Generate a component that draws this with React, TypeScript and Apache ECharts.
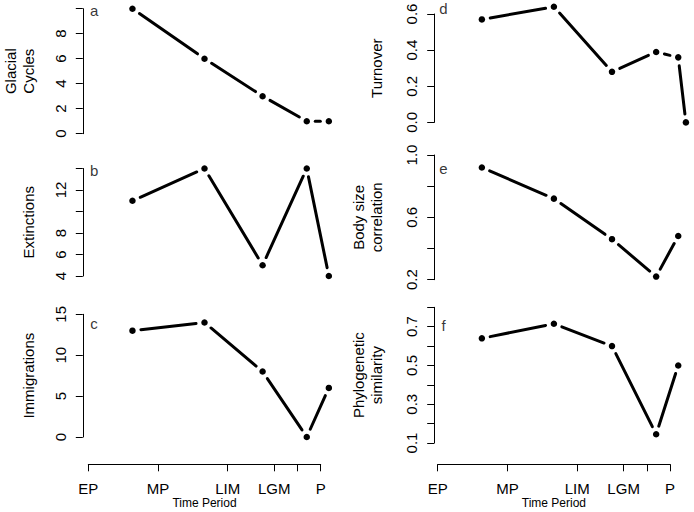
import React, { useEffect, useRef } from "react";
import * as echarts from "echarts";

// ---- data ----
const periodTicks = [0, 3, 6, 8, 9, 10];
const periodLabelValues = [0, 3, 6, 8, 10];
const periodLabels = ["EP", "MP", "LIM", "LGM", "P"];

const timeX = [1.9, 5.0, 7.5, 9.4, 10.35];
const timeXTurnover = [1.9, 5.0, 7.5, 9.4, 10.35, 10.68];

const glacialCycles = [10, 6, 3, 1, 1];
const extinctions = [11, 14, 5, 14, 4];
const immigrations = [13, 14, 8, 0, 6];
const turnover = [0.57, 0.64, 0.28, 0.39, 0.36, 0.0];
const bodySizeCorrelation = [0.92, 0.72, 0.46, 0.22, 0.48];
const phyloSimilarity = [0.64, 0.715, 0.6, 0.145, 0.5];

const labelsGlacial = ["0", "2", "4", "6", "8"];
const labelsExtinctions = ["4", "6", "8", "12"];
const labelsImmigrations = ["0", "5", "10", "15"];
const labelsTurnover = ["0.0", "0.2", "0.4", "0.6"];
const labelsBody = ["0.2", "0.6", "1.0"];
const labelsPhylo = ["0.1", "0.3", "0.5", "0.7"];

// ---- layout / style ----
const FONT = "'Liberation Sans', Arial, Helvetica, sans-serif";
const GAP = 8.5;
const LETTER_X = 0.25;

type Panel = {
  title: string;
  letter: string;
  xs: number[];
  ys: number[];
  yMin: number;
  yMax: number;
  interval: number;
  decimals: number;
  shown: string[];
  left: number;
  top: number;
  height: number;
  yOffset: number;
  nameGap: number;
  bottomAxis: boolean;
  xOffset: number;
};

const COL_W = 232.4;

const panels: Panel[] = [
  { title: "Glacial\nCycles", letter: "a", xs: timeX, ys: glacialCycles, yMin: 0, yMax: 10, interval: 2, decimals: 0, shown: labelsGlacial, left: 88.3, top: 8.7, height: 125, yOffset: 5.5, nameGap: 45, bottomAxis: false, xOffset: 0 },
  { title: "Extinctions", letter: "b", xs: timeX, ys: extinctions, yMin: 4, yMax: 14, interval: 2, decimals: 0, shown: labelsExtinctions, left: 88.3, top: 168.5, height: 107.5, yOffset: 5.5, nameGap: 45, bottomAxis: false, xOffset: 0 },
  { title: "Immigrations", letter: "c", xs: timeX, ys: immigrations, yMin: 0, yMax: 15, interval: 5, decimals: 0, shown: labelsImmigrations, left: 88.3, top: 314.3, height: 122.7, yOffset: 5.5, nameGap: 45, bottomAxis: true, xOffset: 27.3 },
  { title: "Turnover", letter: "d", xs: timeXTurnover, ys: turnover, yMin: 0, yMax: 0.6, interval: 0.2, decimals: 1, shown: labelsTurnover, left: 437.7, top: 14, height: 108.4, yOffset: 3.5, nameGap: 49, bottomAxis: false, xOffset: 0 },
  { title: "Body size\ncorrelation", letter: "e", xs: timeX, ys: bodySizeCorrelation, yMin: 0.2, yMax: 1.0, interval: 0.2, decimals: 1, shown: labelsBody, left: 437.7, top: 155, height: 124.7, yOffset: 3.5, nameGap: 49, bottomAxis: false, xOffset: 0 },
  { title: "Phylogenetic\nsimilarity", letter: "f", xs: timeX, ys: phyloSimilarity, yMin: 0.1, yMax: 0.8, interval: 0.1, decimals: 1, shown: labelsPhylo, left: 437.7, top: 307.3, height: 135.7, yOffset: 3.5, nameGap: 49, bottomAxis: true, xOffset: 21.3 },
];

function buildOption() {
  const grid: any[] = [];
  const xAxis: any[] = [];
  const yAxis: any[] = [];
  const series: any[] = [];

  panels.forEach((p, gi) => {
    grid.push({ left: p.left, top: p.top, width: COL_W, height: p.height, containLabel: false, outerBoundsMode: "none" });
    xAxis.push({
      type: "value",
      gridIndex: gi,
      min: 0,
      max: 10,
      show: p.bottomAxis,
      position: "bottom",
      offset: p.xOffset,
      name: p.bottomAxis ? "Time Period" : "",
      nameLocation: "middle",
      nameGap: 33,
      nameTextStyle: { fontFamily: FONT, fontSize: 12, color: "#000" },
      axisLine: { show: true, onZero: false, lineStyle: { color: "#000", width: 1 } },
      axisTick: { show: true, length: 7, lineStyle: { color: "#000", width: 1 }, customValues: periodTicks },
      axisLabel: {
        show: true,
        margin: 17,
        fontFamily: FONT,
        fontSize: 15,
        color: "#000",
        customValues: periodLabelValues,
        formatter: (v: number) => {
          const idx = periodLabelValues.findIndex((t) => Math.abs(t - v) < 1e-6);
          return idx >= 0 ? periodLabels[idx] : "";
        },
      },
      splitLine: { show: false },
    });
    yAxis.push({
      type: "value",
      gridIndex: gi,
      min: p.yMin,
      max: p.yMax,
      interval: p.interval,
      position: "left",
      offset: p.yOffset,
      name: p.title,
      nameLocation: "middle",
      nameRotate: 90,
      nameGap: p.nameGap,
      nameTextStyle: { fontFamily: FONT, fontSize: 15, color: "#000", lineHeight: 18 },
      axisLine: { show: true, onZero: false, lineStyle: { color: "#000", width: 1 } },
      axisTick: { show: true, length: 7, lineStyle: { color: "#000", width: 1 } },
      axisLabel: {
        show: true,
        rotate: 90,
        margin: 15,
        fontFamily: FONT,
        fontSize: 15,
        color: "#000",
        showMinLabel: true,
        showMaxLabel: true,
        formatter: (v: number) => {
          const s = v.toFixed(p.decimals);
          return p.shown.includes(s) ? s : "";
        },
      },
      splitLine: { show: false },
    });

    const pts = p.xs.map((x, i) => [x, p.ys[i]]);
    series.push({
      type: "custom",
      xAxisIndex: gi,
      yAxisIndex: gi,
      clip: false,
      silent: true,
      encode: { x: 0, y: 1 },
      data: pts,
      renderItem: (params: any, api: any) => {
        const i = params.dataIndex;
        if (i === 0) return null;
        const a = api.coord([p.xs[i - 1], p.ys[i - 1]]);
        const b = api.coord([api.value(0), api.value(1)]);
        const dx = b[0] - a[0];
        const dy = b[1] - a[1];
        const len = Math.hypot(dx, dy);
        if (len <= 2 * GAP) return null;
        const ux = dx / len;
        const uy = dy / len;
        return {
          type: "line",
          shape: { x1: a[0] + ux * GAP, y1: a[1] + uy * GAP, x2: b[0] - ux * GAP, y2: b[1] - uy * GAP },
          style: { stroke: "#000", lineWidth: 3, lineCap: "round" },
        };
      },
    });
    series.push({
      type: "scatter",
      xAxisIndex: gi,
      yAxisIndex: gi,
      clip: false,
      silent: true,
      symbol: "circle",
      symbolSize: 6.5,
      itemStyle: { color: "#000", opacity: 1 },
      data: pts,
    });
    series.push({
      type: "scatter",
      xAxisIndex: gi,
      yAxisIndex: gi,
      clip: false,
      silent: true,
      symbolSize: 1,
      itemStyle: { color: "rgba(0,0,0,0)" },
      label: { show: true, position: "inside", offset: [0, 1.5], formatter: p.letter, fontFamily: FONT, fontSize: 15, lineHeight: 13, color: "#000" },
      data: [[LETTER_X, Math.max(...p.ys)]],
    });
  });

  return { animation: false, backgroundColor: "#fff", grid, xAxis, yAxis, series };
}

export default function App() {
  const ref = useRef<HTMLDivElement>(null);
  useEffect(() => {
    document.body.style.margin = "0";
    if (!ref.current) return;
    const chart = echarts.init(ref.current, undefined, { renderer: "svg" });
    chart.setOption(buildOption() as any);
    return () => chart.dispose();
  }, []);
  return <div ref={ref} style={{ position: "absolute", left: 0, top: 0, width: 694, height: 512 }} />;
}
